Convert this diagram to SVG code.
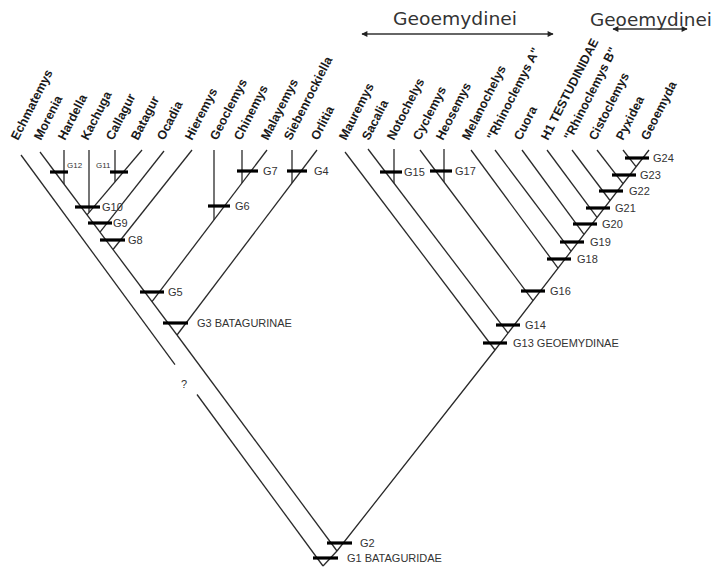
<svg xmlns="http://www.w3.org/2000/svg" width="713" height="567" viewBox="0 0 713 567">
<defs>
<marker id="ah" viewBox="0 0 10 10" refX="9" refY="5" markerWidth="10" markerHeight="6" markerUnits="userSpaceOnUse" orient="auto-start-reverse">
<path d="M0,0 L10,5 L0,10 z" fill="#222"/>
</marker>
<style>
.br{stroke:#2a2a2a;stroke-width:1.3;fill:none}
.bar{stroke:#000;stroke-width:3.2}
.tx{font-family:"Liberation Sans",Arial,sans-serif;font-size:12.5px;font-weight:bold;fill:#1a1a1a}
.nl{font-family:"Liberation Sans",Arial,sans-serif;font-size:11px;fill:#333}
.sm{font-family:"Liberation Sans",Arial,sans-serif;font-size:8px;fill:#333}
.hd{font-family:"DejaVu Sans",sans-serif;font-size:17px;fill:#333}
.ar{stroke:#333;stroke-width:1.5;fill:none}
</style>
</defs>
<rect width="713" height="567" fill="#fff"/>

<g id="header">
<text class="hd" x="393" y="25" textLength="124" lengthAdjust="spacingAndGlyphs">Geoemydinei</text>
<line class="ar" x1="362" y1="34" x2="553" y2="34" marker-start="url(#ah)" marker-end="url(#ah)"/>
<text class="hd" x="590" y="26" textLength="122" lengthAdjust="spacingAndGlyphs">Geoemydinei</text>
<line class="ar" x1="613" y1="29" x2="687" y2="29" marker-start="url(#ah)" marker-end="url(#ah)"/>
</g>

<g id="connectors">
<line class="br" x1="21" y1="155" x2="175" y2="364.6"/>
<line class="br" x1="197" y1="394.5" x2="323" y2="566"/>
<line class="br" x1="177" y1="335" x2="40" y2="152"/>
<line class="br" x1="152" y1="301.6" x2="267" y2="150"/>
<line class="br" x1="177" y1="335" x2="317" y2="150"/>
<line class="br" x1="113" y1="249.5" x2="192" y2="150"/>
<line class="br" x1="100" y1="232.1" x2="164" y2="151"/>
<line class="br" x1="87" y1="214.8" x2="142" y2="150"/>
<line class="br" x1="64" y1="150" x2="64" y2="184"/>
<line class="br" x1="89" y1="150" x2="89" y2="212.3"/>
<line class="br" x1="115" y1="150" x2="115" y2="181.8"/>
<line class="br" x1="214" y1="150" x2="214" y2="220"/>
<line class="br" x1="242" y1="150" x2="242" y2="183"/>
<line class="br" x1="292" y1="150" x2="292" y2="183"/>
<line class="br" x1="177" y1="335" x2="337" y2="551"/>
<line class="br" x1="337" y1="551" x2="323" y2="566"/>
<polyline class="br" points="337,551 495,350 649,150"/>
<line class="br" x1="495" y1="350" x2="345" y2="152"/>
<line class="br" x1="508" y1="333.1" x2="368" y2="149"/>
<line class="br" x1="394" y1="149" x2="394" y2="183.2"/>
<line class="br" x1="533" y1="300.6" x2="420" y2="150"/>
<line class="br" x1="444" y1="149" x2="444" y2="182"/>
<line class="br" x1="558" y1="268.1" x2="471" y2="150"/>
<line class="br" x1="571" y1="251.2" x2="495" y2="150"/>
<line class="br" x1="584" y1="234.3" x2="522" y2="150"/>
<line class="br" x1="597" y1="217.4" x2="547" y2="150"/>
<line class="br" x1="610" y1="200.5" x2="572" y2="150"/>
<line class="br" x1="623" y1="183.6" x2="597" y2="150"/>
<line class="br" x1="636" y1="166.7" x2="623" y2="150"/>
</g>
<text class="nl" x="181" y="388" font-size="12">?</text>

<g id="taxa">
<g id="t-echmatemys"><text class="tx" transform="translate(18,141) rotate(-63)">Echmatemys</text></g>
<g id="t-morenia"><text class="tx" transform="translate(41,141) rotate(-63)">Morenia</text></g>
<g id="t-hardella"><text class="tx" transform="translate(65,141) rotate(-63)">Hardella</text></g>
<g id="t-kachuga"><text class="tx" transform="translate(88,141) rotate(-63)">Kachuga</text></g>
<g id="t-callagur"><text class="tx" transform="translate(113,141) rotate(-63)">Callagur</text></g>
<g id="t-batagur"><text class="tx" transform="translate(138,141) rotate(-63)">Batagur</text></g>
<g id="t-ocadia"><text class="tx" transform="translate(164,141) rotate(-63)">Ocadia</text></g>
<g id="t-hieremys"><text class="tx" transform="translate(192,141) rotate(-63)">Hieremys</text></g>
<g id="t-geoclemys"><text class="tx" transform="translate(217,141) rotate(-63)">Geoclemys</text></g>
<g id="t-chinemys"><text class="tx" transform="translate(241,141) rotate(-63)">Chinemys</text></g>
<g id="t-malayemys"><text class="tx" transform="translate(268,141) rotate(-63)">Malayemys</text></g>
<g id="t-siebenrockiella"><text class="tx" transform="translate(291,141) rotate(-63)">Siebenrockiella</text></g>
<g id="t-orlitia"><text class="tx" transform="translate(318,141) rotate(-63)">Orlitia</text></g>
<g id="t-mauremys"><text class="tx" transform="translate(346,141) rotate(-63)">Mauremys</text></g>
<g id="t-sacalia"><text class="tx" transform="translate(369,141) rotate(-63)">Sacalia</text></g>
<g id="t-notochelys"><text class="tx" transform="translate(394,141) rotate(-63)">Notochelys</text></g>
<g id="t-cyclemys"><text class="tx" transform="translate(420,141) rotate(-63)">Cyclemys</text></g>
<g id="t-heosemys"><text class="tx" transform="translate(443,141) rotate(-63)">Heosemys</text></g>
<g id="t-melanochelys"><text class="tx" transform="translate(469,141) rotate(-63)">Melanochelys</text></g>
<g id="t-rhinoa"><text class="tx" transform="translate(494,141) rotate(-63)">"Rhinoclemys A"</text></g>
<g id="t-cuora"><text class="tx" transform="translate(521,141) rotate(-63)">Cuora</text></g>
<g id="t-h1"><text class="tx" transform="translate(548,141) rotate(-63)">H1 TESTUDINIDAE</text></g>
<g id="t-rhinob"><text class="tx" transform="translate(571,141) rotate(-63)">"Rhinoclemys B"</text></g>
<g id="t-cistoclemys"><text class="tx" transform="translate(596,141) rotate(-63)">Cistoclemys</text></g>
<g id="t-pyxidea"><text class="tx" transform="translate(623,141) rotate(-63)">Pyxidea</text></g>
<g id="t-geoemyda"><text class="tx" transform="translate(648,141) rotate(-63)">Geoemyda</text></g>
</g>

<g id="G1"><line class="bar" x1="313" y1="558" x2="338" y2="558"/><text class="nl" x="347" y="562">G1 BATAGURIDAE</text></g>
<g id="G2"><line class="bar" x1="327" y1="543" x2="352" y2="543"/><text class="nl" x="360" y="547">G2</text></g>
<g id="G3"><line class="bar" x1="163" y1="323" x2="188" y2="323"/><text class="nl" x="197" y="327">G3 BATAGURINAE</text></g>
<g id="G4"><line class="bar" x1="287" y1="171" x2="307" y2="171"/><text class="nl" x="314" y="175">G4</text></g>
<g id="G5"><line class="bar" x1="140" y1="292" x2="164" y2="292"/><text class="nl" x="168" y="296">G5</text></g>
<g id="G6"><line class="bar" x1="208" y1="206" x2="230" y2="206"/><text class="nl" x="235" y="210">G6</text></g>
<g id="G7"><line class="bar" x1="237" y1="171" x2="258" y2="171"/><text class="nl" x="263" y="175">G7</text></g>
<g id="G8"><line class="bar" x1="100" y1="240" x2="125" y2="240"/><text class="nl" x="128" y="244">G8</text></g>
<g id="G9"><line class="bar" x1="88" y1="223" x2="112" y2="223"/><text class="nl" x="113" y="227">G9</text></g>
<g id="G10"><line class="bar" x1="75" y1="207" x2="100" y2="207"/><text class="nl" x="102" y="211">G10</text></g>
<g id="G11"><line class="bar" x1="110" y1="172" x2="128" y2="172"/><text class="sm" x="96" y="168">G11</text></g>
<g id="G12"><line class="bar" x1="50" y1="172" x2="68" y2="172"/><text class="sm" x="67" y="168">G12</text></g>
<g id="G13"><line class="bar" x1="483" y1="343" x2="507" y2="343"/><text class="nl" x="513" y="347">G13 GEOEMYDINAE</text></g>
<g id="G14"><line class="bar" x1="496" y1="325" x2="520" y2="325"/><text class="nl" x="525" y="329">G14</text></g>
<g id="G15"><line class="bar" x1="380" y1="172" x2="402" y2="172"/><text class="nl" x="404" y="176">G15</text></g>
<g id="G16"><line class="bar" x1="521" y1="291" x2="545" y2="291"/><text class="nl" x="550" y="295">G16</text></g>
<g id="G17"><line class="bar" x1="430" y1="171" x2="452" y2="171"/><text class="nl" x="455" y="175">G17</text></g>
<g id="G18"><line class="bar" x1="547" y1="259" x2="571" y2="259"/><text class="nl" x="577" y="263">G18</text></g>
<g id="G19"><line class="bar" x1="560" y1="242" x2="584" y2="242"/><text class="nl" x="590" y="246">G19</text></g>
<g id="G20"><line class="bar" x1="573" y1="224" x2="597" y2="224"/><text class="nl" x="602" y="228">G20</text></g>
<g id="G21"><line class="bar" x1="586" y1="208" x2="610" y2="208"/><text class="nl" x="615" y="212">G21</text></g>
<g id="G22"><line class="bar" x1="599" y1="191" x2="623" y2="191"/><text class="nl" x="629" y="195">G22</text></g>
<g id="G23"><line class="bar" x1="612" y1="175" x2="636" y2="175"/><text class="nl" x="640" y="179">G23</text></g>
<g id="G24"><line class="bar" x1="625" y1="158" x2="649" y2="158"/><text class="nl" x="653" y="162">G24</text></g>
</svg>
